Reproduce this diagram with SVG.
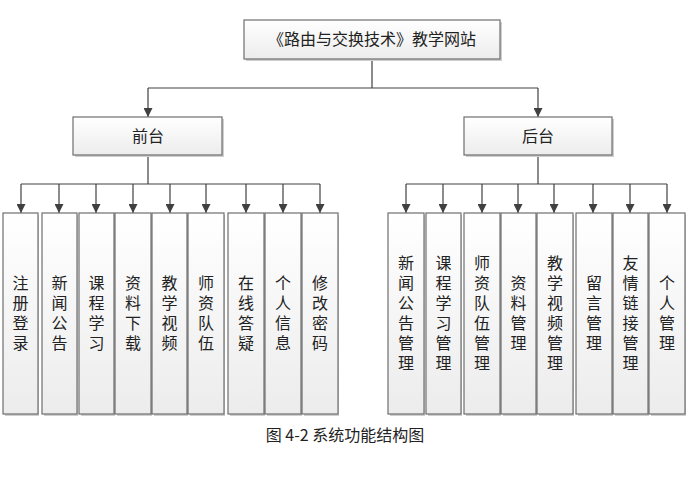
<svg xmlns="http://www.w3.org/2000/svg" width="693" height="498" viewBox="0 0 693 498">
<defs>
<linearGradient id="g" x1="0" y1="0" x2="0" y2="1">
<stop offset="0" stop-color="#ffffff"/>
<stop offset="1" stop-color="#ececec"/>
</linearGradient>
<marker id="arr" viewBox="0 0 10 10" refX="10" refY="5" markerWidth="9" markerHeight="9" markerUnits="userSpaceOnUse" orient="auto">
<path d="M0,0 L10,5 L0,10 Z" fill="#404040"/>
</marker>
</defs>
<style>
.box{fill:url(#g);stroke:#6e6e6e;stroke-width:1.2}
.sh{fill:#cfcfcf}
.t{font-family:"Noto Sans CJK SC","Noto Sans CJK JP",sans-serif;font-size:16px;fill:#222;text-anchor:middle}
.v{font-family:"Noto Sans CJK SC","Noto Sans CJK JP",sans-serif;font-size:16px;fill:#222;text-anchor:middle;writing-mode:vertical-rl;letter-spacing:4px}
.c{stroke:#404040;stroke-width:1.2;fill:none}
.ca{stroke:#404040;stroke-width:1.2;fill:none;marker-end:url(#arr)}
.cap{font-family:"Noto Sans CJK SC","Noto Sans CJK JP",sans-serif;font-size:16px;fill:#222;text-anchor:middle}
</style>
<rect width="693" height="498" fill="#ffffff"/>

<g id="connectors">
<path class="c" d="M372,59 V88 M148,88 H538"/>
<path class="ca" d="M148,88 V117"/>
<path class="ca" d="M538,88 V117"/>
<path class="c" d="M148,155 V184 M21,184 H320"/>
<path class="ca" d="M21,184 V213"/>
<path class="ca" d="M59,184 V213"/>
<path class="ca" d="M96,184 V213"/>
<path class="ca" d="M133,184 V213"/>
<path class="ca" d="M170,184 V213"/>
<path class="ca" d="M206,184 V213"/>
<path class="ca" d="M246,184 V213"/>
<path class="ca" d="M283,184 V213"/>
<path class="ca" d="M320,184 V213"/>
<path class="c" d="M538,155 V184 M406,184 H667"/>
<path class="ca" d="M406,184 V213"/>
<path class="ca" d="M443,184 V213"/>
<path class="ca" d="M482,184 V213"/>
<path class="ca" d="M518,184 V213"/>
<path class="ca" d="M554,184 V213"/>
<path class="ca" d="M593,184 V213"/>
<path class="ca" d="M630,184 V213"/>
<path class="ca" d="M667,184 V213"/>
</g>

<g id="root">
<rect class="sh" x="246" y="22" width="256" height="39"/>
<rect class="box" x="244" y="20" width="256" height="39"/>
<text class="t" x="372" y="45" font-size="15">《路由与交换技术》教学网站</text>
</g>

<g id="front">
<rect class="sh" x="75" y="119" width="149" height="38"/>
<rect class="box" x="73" y="117" width="149" height="38"/>
<text class="t" x="148" y="142">前台</text>
</g>
<g id="back">
<rect class="sh" x="466" y="119" width="148" height="38"/>
<rect class="box" x="464" y="117" width="148" height="38"/>
<text class="t" x="538" y="142">后台</text>
</g>

<g id="f1"><rect class="sh" x="5" y="215" width="34" height="201"/><rect class="box" x="3" y="213" width="35" height="201"/><text class="v" x="20.5" y="315">注册登录</text></g>
<g id="f2"><rect class="sh" x="44" y="215" width="34" height="201"/><rect class="box" x="42" y="213" width="35" height="201"/><text class="v" x="59.5" y="315">新闻公告</text></g>
<g id="f3"><rect class="sh" x="81" y="215" width="34" height="201"/><rect class="box" x="79" y="213" width="35" height="201"/><text class="v" x="96.5" y="315">课程学习</text></g>
<g id="f4"><rect class="sh" x="117" y="215" width="35" height="201"/><rect class="box" x="115" y="213" width="36" height="201"/><text class="v" x="133" y="315">资料下载</text></g>
<g id="f5"><rect class="sh" x="154" y="215" width="34" height="201"/><rect class="box" x="152" y="213" width="35" height="201"/><text class="v" x="169.5" y="315">教学视频</text></g>
<g id="f6"><rect class="sh" x="190" y="215" width="35" height="201"/><rect class="box" x="188" y="213" width="36" height="201"/><text class="v" x="206" y="315">师资队伍</text></g>
<g id="f7"><rect class="sh" x="230" y="215" width="35" height="201"/><rect class="box" x="228" y="213" width="36" height="201"/><text class="v" x="246" y="315">在线答疑</text></g>
<g id="f8"><rect class="sh" x="267" y="215" width="35" height="201"/><rect class="box" x="265" y="213" width="36" height="201"/><text class="v" x="283" y="315">个人信息</text></g>
<g id="f9"><rect class="sh" x="304" y="215" width="35" height="201"/><rect class="box" x="302" y="213" width="36" height="201"/><text class="v" x="320" y="315">修改密码</text></g>

<g id="b1"><rect class="sh" x="390" y="215" width="35" height="201"/><rect class="box" x="388" y="213" width="36" height="201"/><text class="v" x="406" y="315">新闻公告管理</text></g>
<g id="b2"><rect class="sh" x="428" y="215" width="34" height="201"/><rect class="box" x="426" y="213" width="35" height="201"/><text class="v" x="443.5" y="315">课程学习管理</text></g>
<g id="b3"><rect class="sh" x="466" y="215" width="35" height="201"/><rect class="box" x="464" y="213" width="36" height="201"/><text class="v" x="482" y="315">师资队伍管理</text></g>
<g id="b4"><rect class="sh" x="503" y="215" width="34" height="201"/><rect class="box" x="501" y="213" width="35" height="201"/><text class="v" x="518.5" y="315">资料管理</text></g>
<g id="b5"><rect class="sh" x="539" y="215" width="35" height="201"/><rect class="box" x="537" y="213" width="36" height="201"/><text class="v" x="555" y="315">教学视频管理</text></g>
<g id="b6"><rect class="sh" x="578" y="215" width="35" height="201"/><rect class="box" x="576" y="213" width="36" height="201"/><text class="v" x="594" y="315">留言管理</text></g>
<g id="b7"><rect class="sh" x="615" y="215" width="34" height="201"/><rect class="box" x="613" y="213" width="35" height="201"/><text class="v" x="630.5" y="315">友情链接管理</text></g>
<g id="b8"><rect class="sh" x="651" y="215" width="35" height="201"/><rect class="box" x="649" y="213" width="36" height="201"/><text class="v" x="667" y="315">个人管理</text></g>

<text class="cap" x="345" y="441">图 4-2 系统功能结构图</text>
</svg>
